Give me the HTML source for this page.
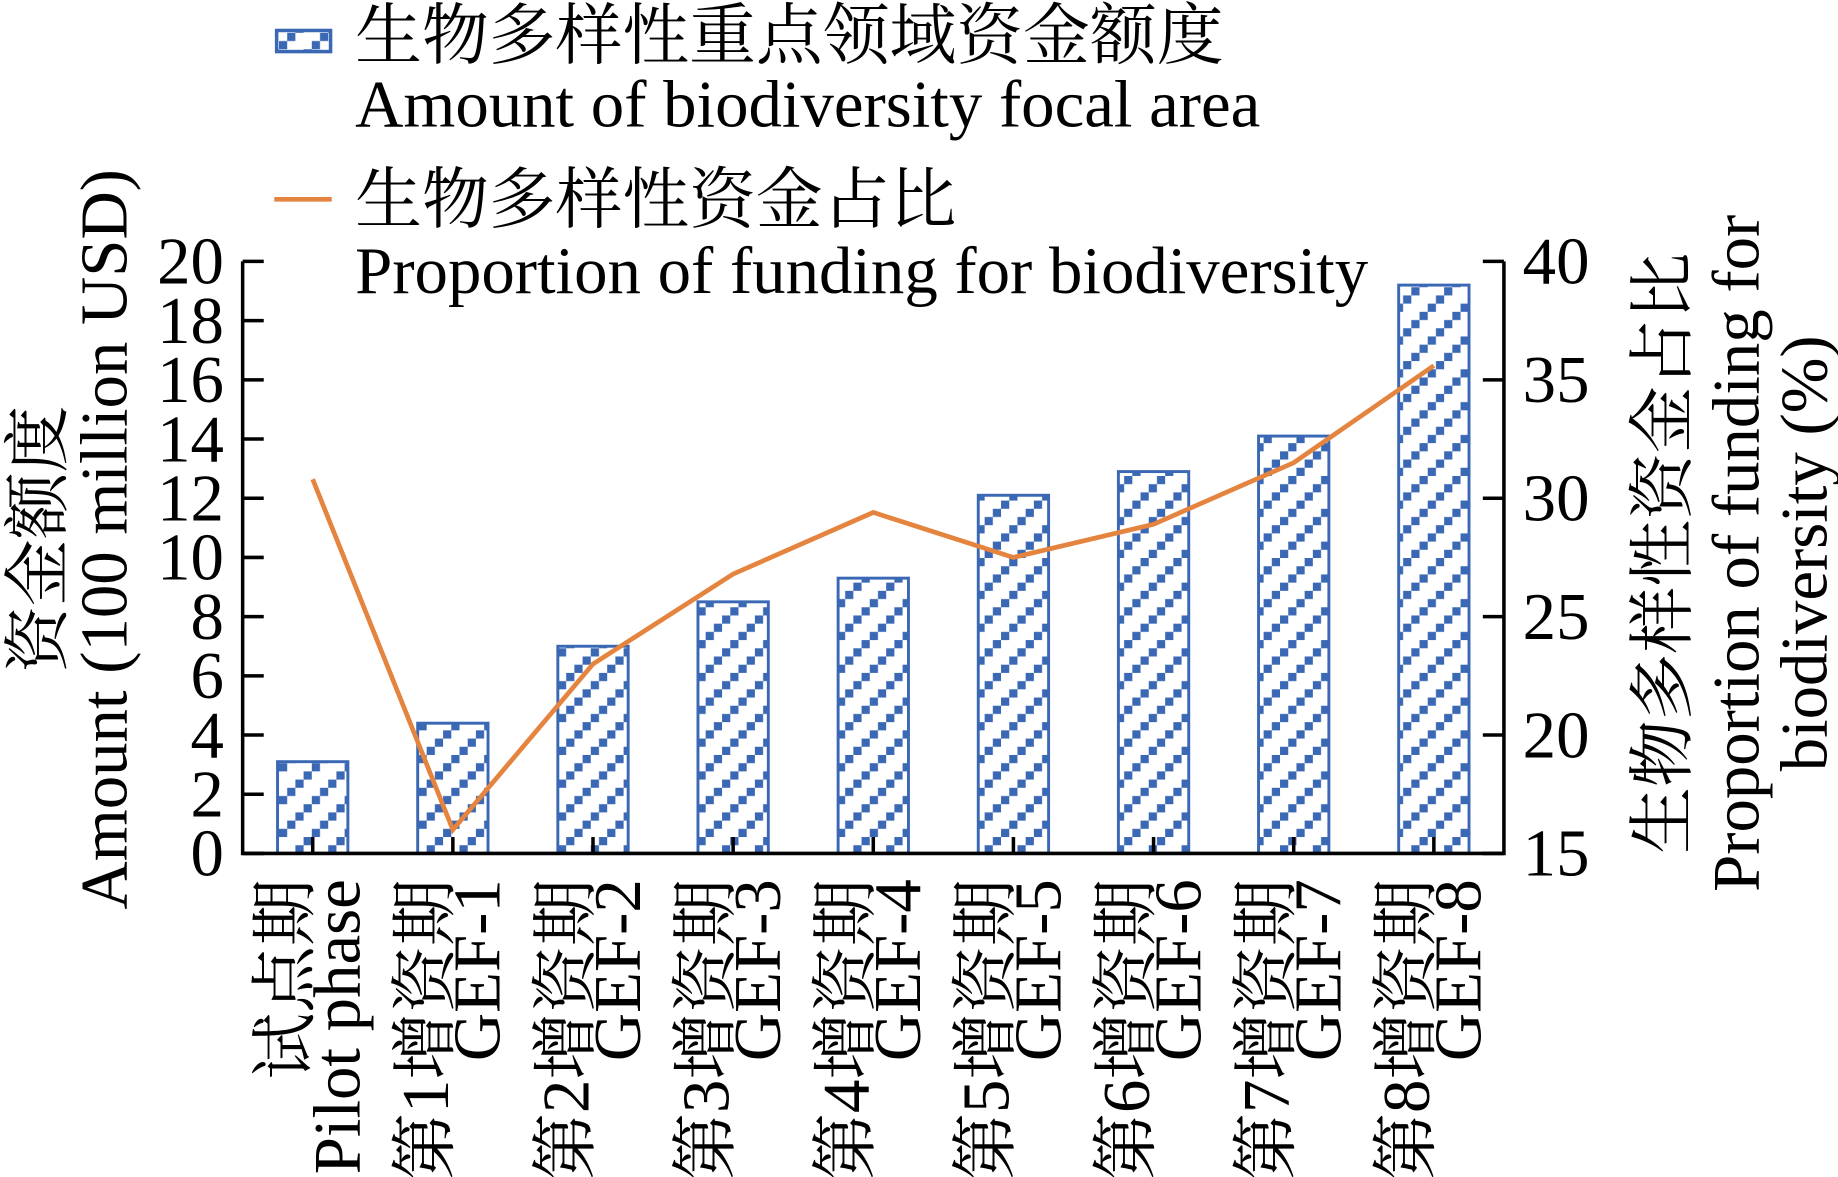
<!DOCTYPE html>
<html><head><meta charset="utf-8">
<style>
html,body{margin:0;padding:0;background:#fff;}
svg{display:block;}
text{font-family:"Liberation Serif","Noto Serif CJK SC",serif;fill:#000;}
</style></head>
<body>
<svg id="chart" width="1838" height="1177" viewBox="0 0 1568 1004" preserveAspectRatio="none" xmlns="http://www.w3.org/2000/svg">
<defs>
<pattern id="hatch" patternUnits="userSpaceOnUse" width="28" height="28" x="0" y="0">
<rect x="21" y="0" width="7" height="7" fill="#3a68b4"/>
<rect x="14" y="7" width="7" height="7" fill="#3a68b4"/>
<rect x="7" y="14" width="7" height="7" fill="#3a68b4"/>
<rect x="0" y="21" width="7" height="7" fill="#3a68b4"/>
</pattern>
</defs>
<g id="legend">
<rect x="236" y="26" width="46" height="18" fill="url(#hatch)" stroke="#3a68b4" stroke-width="3"/>
<text x="303" y="50" font-size="57">生物多样性重点领域资金额度</text>
<text x="303" y="108" font-size="57">Amount of biodiversity focal area</text>
<line x1="234" y1="170" x2="283" y2="170" stroke="#e4843f" stroke-width="4"/>
<text x="303" y="190" font-size="57">生物多样性资金占比</text>
<text x="303" y="250" font-size="57">Proportion of funding for biodiversity</text>
</g>
<g id="plot"></g>
<text transform="translate(52,460) rotate(-90)" text-anchor="middle" font-size="57">资金额度</text>
<text transform="translate(108,460) rotate(-90)" text-anchor="middle" font-size="57">Amount (100 million USD)</text>
<text transform="translate(1438,472) rotate(-90)" text-anchor="middle" font-size="57">生物多样性资金占比</text>
<text transform="translate(1500,472) rotate(-90)" text-anchor="middle" font-size="57">Proportion of funding for</text>
<text transform="translate(1558,472) rotate(-90)" text-anchor="middle" font-size="57">biodiversity (%)</text>
</svg>
<script>
const categoriesZh = ["试点期","第1增资期","第2增资期","第3增资期","第4增资期","第5增资期","第6增资期","第7增资期","第8增资期"];
const categoriesEn = ["Pilot phase","GEF-1","GEF-2","GEF-3","GEF-4","GEF-5","GEF-6","GEF-7","GEF-8"];
const amountValues = [3.1, 4.4, 7.0, 8.5, 9.3, 12.1, 12.9, 14.1, 19.2];
const proportionValues = [30.8, 16.0, 23.0, 26.8, 29.4, 27.5, 28.9, 31.5, 35.6];
const leftTicks = [0,2,4,6,8,10,12,14,16,18,20];
const rightTicks = [15,20,25,30,35,40];

const NS = "http://www.w3.org/2000/svg";
const g = document.getElementById("plot");
const L = 207, R = 1283, T = 223, B = 728;
const step = (R - L) / categoriesZh.length;
const xC = i => L + step * (i + 0.5);
const yL = v => B - (v - 0) / (20 - 0) * (B - T);
const yR = v => B - (v - 15) / (40 - 15) * (B - T);
function mk(tag, attrs) { const e = document.createElementNS(NS, tag); for (const k in attrs) e.setAttribute(k, attrs[k]); g.appendChild(e); return e; }

amountValues.forEach((v, i) => {
  const r = mk("rect", {x: xC(i) - 30, y: yL(v), width: 60, height: B - yL(v), fill: "url(#hatch)", stroke: "#3a68b4", "stroke-width": 2.5});
  
  
});

const pts = proportionValues.map((v, i) => xC(i) + "," + yR(v)).join(" ");
const line = mk("polyline", {points: pts, fill: "none", stroke: "#e4843f", "stroke-width": 4, "stroke-linejoin": "miter"});



const frame = mk("path", {d: `M${L},${T} V${B} H${R} V${T}`, fill: "none", stroke: "#000", "stroke-width": 3});



leftTicks.forEach(t => {
  const tk = mk("line", {x1: L, x2: L + 18, y1: yL(t), y2: yL(t), stroke: "#000", "stroke-width": 3});
  
  
  const tx = mk("text", {x: L - 16, y: yL(t) + 19, "text-anchor": "end", "font-size": 57});
  tx.textContent = t;
  
  
});
rightTicks.forEach(t => {
  const tk = mk("line", {x1: R - 18, x2: R, y1: yR(t), y2: yR(t), stroke: "#000", "stroke-width": 3});
  
  
  const tx = mk("text", {x: R + 16, y: yR(t) + 19, "text-anchor": "start", "font-size": 57});
  tx.textContent = t;
  
  
});
categoriesZh.forEach((c, i) => {
  const tk = mk("line", {x1: xC(i), x2: xC(i), y1: B, y2: B - 14, stroke: "#000", "stroke-width": 3});
  
  
  const t1 = mk("text", {transform: `translate(${xC(i) - 4},${750}) rotate(-90)`, "text-anchor": "end", "font-size": 57});
  t1.textContent = c;
  
  
  const t2 = mk("text", {transform: `translate(${xC(i) + 40},${750}) rotate(-90)`, "text-anchor": "end", "font-size": 57});
  t2.textContent = categoriesEn[i];
  
  
});
</script>
</body></html>
